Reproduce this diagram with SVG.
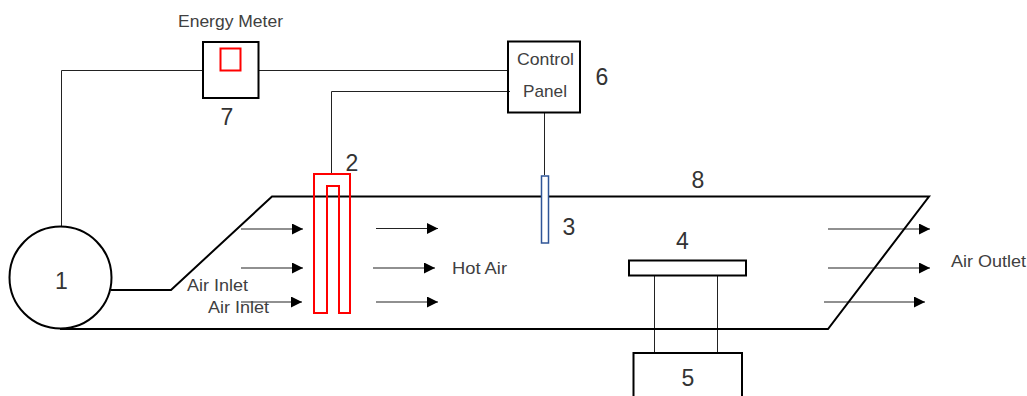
<svg xmlns="http://www.w3.org/2000/svg" width="1027" height="396" viewBox="0 0 1027 396">
<style>
.s{fill:#fff;stroke:#000;stroke-width:2}
.d{fill:none;stroke:#000;stroke-width:2}
.w{fill:none;stroke:#222;stroke-width:1}
.a{fill:none;stroke:#222;stroke-width:1.100;marker-end:url(#ah)}
.r{fill:none;stroke:#f00;stroke-width:2}
text{font-family:"Liberation Sans",Arial,sans-serif;fill:#404040;font-size:17px}
.n{font-size:23px;text-anchor:middle;fill:#333}
</style>
<defs>
<marker id="ah" markerUnits="userSpaceOnUse" markerWidth="11" markerHeight="12" refX="11" refY="5.500" orient="auto"><path d="M0 0L11 5.500L0 11Z" fill="#000"/></marker>
</defs>
<rect width="1027" height="396" fill="#fff"/>
<g id="connectors">
<path class="w" d="M61.500 227V70.500H203"/>
<path class="w" d="M259 70.500H508"/>
<path class="w" d="M331.500 173V91.500H510"/>
<path class="w" d="M544.500 113V175"/>
<path class="w" d="M654.500 276V353"/>
<path class="w" d="M717.500 276V353"/>
<path class="a" d="M241 229H303"/>
<path class="a" d="M241 268H303"/>
<path class="a" d="M241 302H302"/>
<path class="a" d="M376 228.500H438"/>
<path class="a" d="M373 268H435"/>
<path class="a" d="M376 302H438"/>
<path class="a" d="M828 229H930"/>
<path class="a" d="M828 268H930"/>
<path class="a" d="M824 302H925"/>
</g>
<g id="duct-8">
<path class="d" d="M111 290H171L272 196.500H929L828 329H60"/>
<text class="n" x="698" y="188">8</text>
</g>
<g id="fan-1">
<circle cx="60.500" cy="277.500" r="51" fill="#fff" stroke="#000" stroke-width="2"/>
<text class="n" x="61.500" y="289">1</text>
</g>
<g id="heater-2">
<path class="r" d="M314 313V174H350V313H339V186H327V313Z"/>
<text class="n" x="352" y="171">2</text>
</g>
<g id="sensor-3">
<rect x="541.500" y="176" width="7" height="67" fill="#fff" stroke="#2f5597" stroke-width="1.500"/>
<text class="n" x="569" y="235">3</text>
</g>
<g id="unit-4">
<rect class="s" x="629" y="260.500" width="117" height="15"/>
<text class="n" x="682.500" y="249">4</text>
</g>
<g id="box-5">
<rect class="s" x="633.500" y="353" width="108.500" height="50"/>
<text class="n" x="688" y="386">5</text>
</g>
<g id="panel-6">
<rect class="s" x="508" y="41.500" width="72" height="71" style="fill:none"/>
<text x="517" y="65" textLength="57" lengthAdjust="spacingAndGlyphs">Control</text>
<text x="523" y="97" textLength="44" lengthAdjust="spacingAndGlyphs">Panel</text>
<text class="n" x="602" y="85">6</text>
</g>
<g id="meter-7">
<rect class="s" x="203" y="42" width="55.500" height="56"/>
<rect class="r" x="220.500" y="48.500" width="20" height="22"/>
<text x="178" y="27" textLength="105" lengthAdjust="spacingAndGlyphs">Energy Meter</text>
<text class="n" x="227" y="125">7</text>
</g>
<g id="labels">
<text x="187" y="291" textLength="61" lengthAdjust="spacingAndGlyphs">Air Inlet</text>
<text x="208" y="313" textLength="61" lengthAdjust="spacingAndGlyphs">Air Inlet</text>
<text x="452" y="274" textLength="55" lengthAdjust="spacingAndGlyphs">Hot Air</text>
<text x="951" y="267" textLength="75" lengthAdjust="spacingAndGlyphs">Air Outlet</text>
</g>
</svg>
